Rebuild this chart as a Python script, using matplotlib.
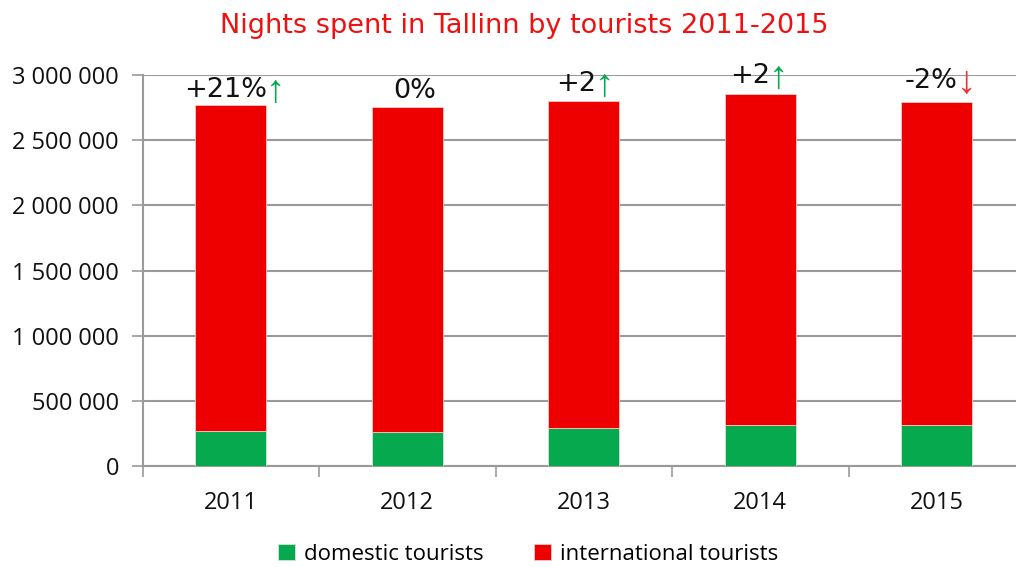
import matplotlib
matplotlib.use("Agg")
import matplotlib.pyplot as plt
import numpy as np

years = ["2011", "2012", "2013", "2014", "2015"]
domestic = [266000, 262000, 292000, 314000, 318000]
total = [2773000, 2757000, 2801000, 2854000, 2791000]
international = [t - d for t, d in zip(total, domestic)]

change_text = ["+21%", "0%", "+2", "+2", "-2%"]
change_arrow = ["↑", "", "↑", "↑", "↓"]
change_dir = ["up", "none", "up", "up", "down"]

yticks = [0, 500000, 1000000, 1500000, 2000000, 2500000, 3000000]
ytick_labels = ["0", "500 000", "1 000 000", "1 500 000", "2 000 000", "2 500 000", "3 000 000"]

GREEN = "#06A94D"
RED = "#EE0000"
GRID = "#9A9A9A"

W, H = 1016, 567
fig = plt.figure(figsize=(W / 100, H / 100), dpi=100)
ax = fig.add_axes([142.5 / W, 101 / H, (1025 - 142.5) / W, (466 - 75) / H])

x = np.arange(len(years))
ax.bar(x, domestic, width=0.40, color=GREEN, edgecolor="#CFE8D8", linewidth=0.6, zorder=3,
       label="domestic tourists")
ax.bar(x, international, bottom=domestic, width=0.40, color=RED, edgecolor="#F8C8C8",
       linewidth=0.6, zorder=3, label="international tourists")

ax.set_xlim(-0.5, len(years) - 0.5)
ax.set_ylim(0, 3000000)
ax.set_yticks(yticks)
ax.set_yticklabels(ytick_labels, fontfamily="Open Sans", fontsize=17, color="#111111")
ax.set_xticks(x)
ax.set_xticklabels(years, fontfamily="Open Sans", fontsize=17, color="#111111")
ax.set_xticks(np.arange(-0.5, len(years)), minor=True)
ax.tick_params(axis="x", which="major", length=0, pad=18)
ax.tick_params(axis="x", which="minor", length=8, color=GRID, width=1.2, direction="out")
ax.tick_params(axis="y", which="major", length=8, color=GRID, width=1.2, direction="out", pad=9)

ax.yaxis.grid(True, color=GRID, linewidth=1.5, zorder=0)
ax.set_axisbelow(True)
for s in ["top", "right"]:
    ax.spines[s].set_visible(False)
for s in ["left", "bottom"]:
    ax.spines[s].set_color(GRID)
    ax.spines[s].set_linewidth(1.5)

# change annotations (anchor x in category units, baseline y in data units)
ann_x = [0.205, 1.04, 2.069, 3.055, 4.12]
ann_y = [2831000, 2824000, 2877000, 2939000, 2900000]
for i in range(len(years)):
    if change_arrow[i]:
        ax.text(ann_x[i], ann_y[i], change_text[i], ha="right", va="baseline",
                fontsize=19.5, color="#111111", fontfamily="DejaVu Sans", zorder=5)
        col = GREEN if change_dir[i] == "up" else "#F03030"
        ax.text(ann_x[i] - 0.008, ann_y[i] - 40000, change_arrow[i], ha="left", va="baseline",
                fontsize=28, color=col, family=["Liberation Sans", "DejaVu Sans"], zorder=5)
    else:
        ax.text(ann_x[i], ann_y[i], change_text[i], ha="center", va="baseline",
                fontsize=19.5, color="#111111", fontfamily="DejaVu Sans", zorder=5)

fig.text(524 / W, 1 - 26 / H, "Nights spent in Tallinn by tourists 2011-2015",
         ha="center", va="center", fontsize=19.5, color="#F01010", fontfamily="DejaVu Sans")

fig.legend(loc="center", bbox_to_anchor=(528 / W, 1 - 554 / H), ncol=2, frameon=False,
           handlelength=0.75, handleheight=0.75, handletextpad=0.4, columnspacing=2.3,
           prop={"family": "Open Sans", "size": 16})

fig.savefig("out.png", dpi=100)
